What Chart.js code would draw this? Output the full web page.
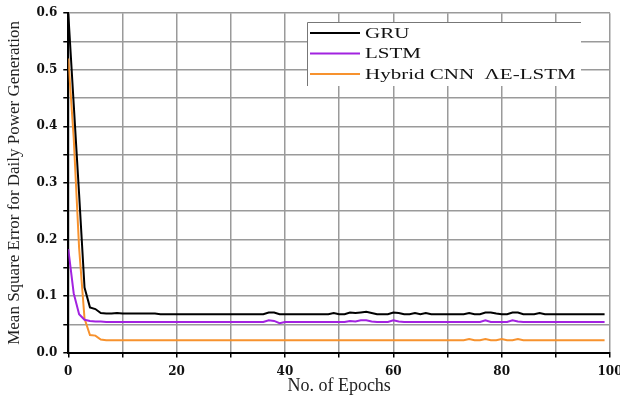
<!DOCTYPE html>
<html>
<head>
<meta charset="utf-8">
<script src="https://cdn.jsdelivr.net/npm/chart.js@4.4.1/dist/chart.umd.min.js"></script>
<style>
    html, body { margin: 0; padding: 0; background: #fff; }
    #wrap { width: 620px; height: 401px; }
</style>
</head>
<body>
<div id="wrap"><canvas id="mseChart" width="620" height="401"></canvas></div>
<script>
const epochs = [
    0, 1, 2, 3, 4, 5, 6, 7, 8, 9,
    10, 11, 12, 13, 14, 15, 16, 17, 18, 19,
    20, 21, 22, 23, 24, 25, 26, 27, 28, 29,
    30, 31, 32, 33, 34, 35, 36, 37, 38, 39,
    40, 41, 42, 43, 44, 45, 46, 47, 48, 49,
    50, 51, 52, 53, 54, 55, 56, 57, 58, 59,
    60, 61, 62, 63, 64, 65, 66, 67, 68, 69,
    70, 71, 72, 73, 74, 75, 76, 77, 78, 79,
    80, 81, 82, 83, 84, 85, 86, 87, 88, 89,
    90, 91, 92, 93, 94, 95, 96, 97, 98, 99
];

const gruMse = [
    0.600, 0.440, 0.280, 0.115, 0.080, 0.077, 0.070, 0.069, 0.069, 0.070,
    0.069, 0.069, 0.069, 0.069, 0.069, 0.069, 0.069, 0.068, 0.068, 0.068,
    0.068, 0.068, 0.068, 0.068, 0.068, 0.068, 0.068, 0.068, 0.068, 0.068,
    0.068, 0.068, 0.068, 0.068, 0.068, 0.068, 0.068, 0.071, 0.071, 0.068,
    0.068, 0.068, 0.068, 0.068, 0.068, 0.068, 0.068, 0.068, 0.068, 0.070,
    0.068, 0.068, 0.071, 0.070, 0.071, 0.072, 0.070, 0.068, 0.068, 0.068,
    0.071, 0.070, 0.068, 0.068, 0.070, 0.068, 0.070, 0.068, 0.068, 0.068,
    0.068, 0.068, 0.068, 0.068, 0.070, 0.068, 0.068, 0.071, 0.071, 0.069,
    0.068, 0.068, 0.071, 0.071, 0.068, 0.068, 0.068, 0.070, 0.068, 0.068,
    0.068, 0.068, 0.068, 0.068, 0.068, 0.068, 0.068, 0.068, 0.068, 0.068
];

const lstmMse = [
    0.183, 0.105, 0.068, 0.058, 0.056, 0.055, 0.055, 0.054, 0.054, 0.054,
    0.054, 0.054, 0.054, 0.054, 0.054, 0.054, 0.054, 0.054, 0.054, 0.054,
    0.054, 0.054, 0.054, 0.054, 0.054, 0.054, 0.054, 0.054, 0.054, 0.054,
    0.054, 0.054, 0.054, 0.054, 0.054, 0.054, 0.054, 0.057, 0.056, 0.052,
    0.054, 0.054, 0.054, 0.054, 0.054, 0.054, 0.054, 0.054, 0.054, 0.054,
    0.054, 0.054, 0.056, 0.055, 0.057, 0.057, 0.055, 0.054, 0.054, 0.054,
    0.057, 0.055, 0.054, 0.054, 0.054, 0.054, 0.054, 0.054, 0.054, 0.054,
    0.054, 0.054, 0.054, 0.054, 0.054, 0.054, 0.054, 0.057, 0.054, 0.054,
    0.054, 0.054, 0.057, 0.055, 0.054, 0.054, 0.054, 0.054, 0.054, 0.054,
    0.054, 0.054, 0.054, 0.054, 0.054, 0.054, 0.054, 0.054, 0.054, 0.054
];

const hybridMse = [
    0.520, 0.380, 0.185, 0.060, 0.031, 0.030, 0.023, 0.022, 0.022, 0.022,
    0.022, 0.022, 0.022, 0.022, 0.022, 0.022, 0.022, 0.022, 0.022, 0.022,
    0.022, 0.022, 0.022, 0.022, 0.022, 0.022, 0.022, 0.022, 0.022, 0.022,
    0.022, 0.022, 0.022, 0.022, 0.022, 0.022, 0.022, 0.022, 0.022, 0.022,
    0.022, 0.022, 0.022, 0.022, 0.022, 0.022, 0.022, 0.022, 0.022, 0.022,
    0.022, 0.022, 0.022, 0.022, 0.022, 0.022, 0.022, 0.022, 0.022, 0.022,
    0.022, 0.022, 0.022, 0.022, 0.022, 0.022, 0.022, 0.022, 0.022, 0.022,
    0.022, 0.022, 0.022, 0.022, 0.024, 0.022, 0.022, 0.024, 0.022, 0.022,
    0.024, 0.022, 0.022, 0.024, 0.022, 0.022, 0.022, 0.022, 0.022, 0.022,
    0.022, 0.022, 0.022, 0.022, 0.022, 0.022, 0.022, 0.022, 0.022, 0.022
];

const seriesNames = ['GRU', 'LSTM', 'Hybrid CNN  \u039BE-LSTM'];
const seriesColors = ['#000000', '#a222e0', '#f7922e'];

const serif = "'Liberation Serif', 'Times New Roman', serif";
const wideSerif = "'DejaVu Serif', serif";

const toPoints = (values) => values.map((v, i) => ({ x: epochs[i], y: v }));

// legend box drawn inside the plot area, top right (text is stretched sideways like the original)
const boxLegend = {
    id: 'boxLegend',
    afterDatasetsDraw(chart) {
        const ctx = chart.ctx;
        const x0 = 307, y0 = 22, w = 274, h = 64;
        ctx.save();
        ctx.fillStyle = '#fff';
        ctx.fillRect(x0, y0, w, h);
        ctx.strokeStyle = '#777';
        ctx.lineWidth = 1;
        ctx.beginPath();
        ctx.moveTo(x0 + 0.5, y0 + h);
        ctx.lineTo(x0 + 0.5, y0 + 0.5);
        ctx.lineTo(x0 + w, y0 + 0.5);
        ctx.stroke();
        chart.data.datasets.forEach((ds, i) => {
            const y = 33 + i * 20.5;
            ctx.strokeStyle = ds.borderColor;
            ctx.lineWidth = 2;
            ctx.beginPath();
            ctx.moveTo(310, y);
            ctx.lineTo(360, y);
            ctx.stroke();
            ctx.save();
            ctx.translate(365, y + 1);
            ctx.scale(1.4, 1);
            ctx.font = '15px ' + serif;
            ctx.textBaseline = 'middle';
            ctx.fillStyle = '#111';
            ctx.fillText(ds.label, 0, 0);
            ctx.restore();
        });
        ctx.restore();
    }
};

new Chart(document.getElementById('mseChart'), {
    type: 'line',
    data: {
        datasets: [0, 1, 2].map(i => ({
            label: seriesNames[i],
            data: toPoints([gruMse, lstmMse, hybridMse][i]),
            borderColor: seriesColors[i],
            backgroundColor: seriesColors[i],
            borderWidth: 2,
            pointRadius: 0,
            tension: 0,
            fill: false
        }))
    },
    options: {
        responsive: false,
        animation: false,
        layout: { padding: { left: 4, right: 10, top: 11, bottom: 6 } },
        plugins: {
            legend: { display: false },
            tooltip: { enabled: false }
        },
        scales: {
            x: {
                type: 'linear',
                min: 0,
                max: 100,
                afterFit: (scale) => { scale.paddingRight = 0; },
                border: { color: '#000', width: 2 },
                grid: { color: '#9a9a9a', lineWidth: 1.5, tickColor: '#000', tickLength: 5 },
                ticks: {
                    stepSize: 10,
                    color: '#111',
                    font: { family: wideSerif, size: 12, weight: 'bold' },
                    padding: 7,
                    maxRotation: 0,
                    callback: (v) => (v % 20 === 0 ? v : '')
                },
                title: {
                    display: true,
                    text: 'No. of Epochs',
                    color: '#222',
                    font: { family: serif, size: 18, lineHeight: 1.0 },
                    padding: { top: -9, bottom: 0 }
                }
            },
            y: {
                min: 0,
                max: 0.6,
                border: { color: '#000', width: 2 },
                grid: { color: '#9a9a9a', lineWidth: 1.5, tickColor: '#000', tickLength: 5 },
                ticks: {
                    stepSize: 0.05,
                    color: '#111',
                    font: { family: wideSerif, size: 12, weight: 'bold' },
                    padding: 6,
                    callback: (v) => (Math.round(v * 100) % 10 === 0 ? v.toFixed(1) : '')
                },
                title: {
                    display: true,
                    text: 'Mean Square Error for Daily Power Generation',
                    color: '#222',
                    font: { family: serif, size: 17 },
                    padding: { top: 0, bottom: 6 }
                }
            }
        }
    },
    plugins: [boxLegend]
});
</script>
</body>
</html>
